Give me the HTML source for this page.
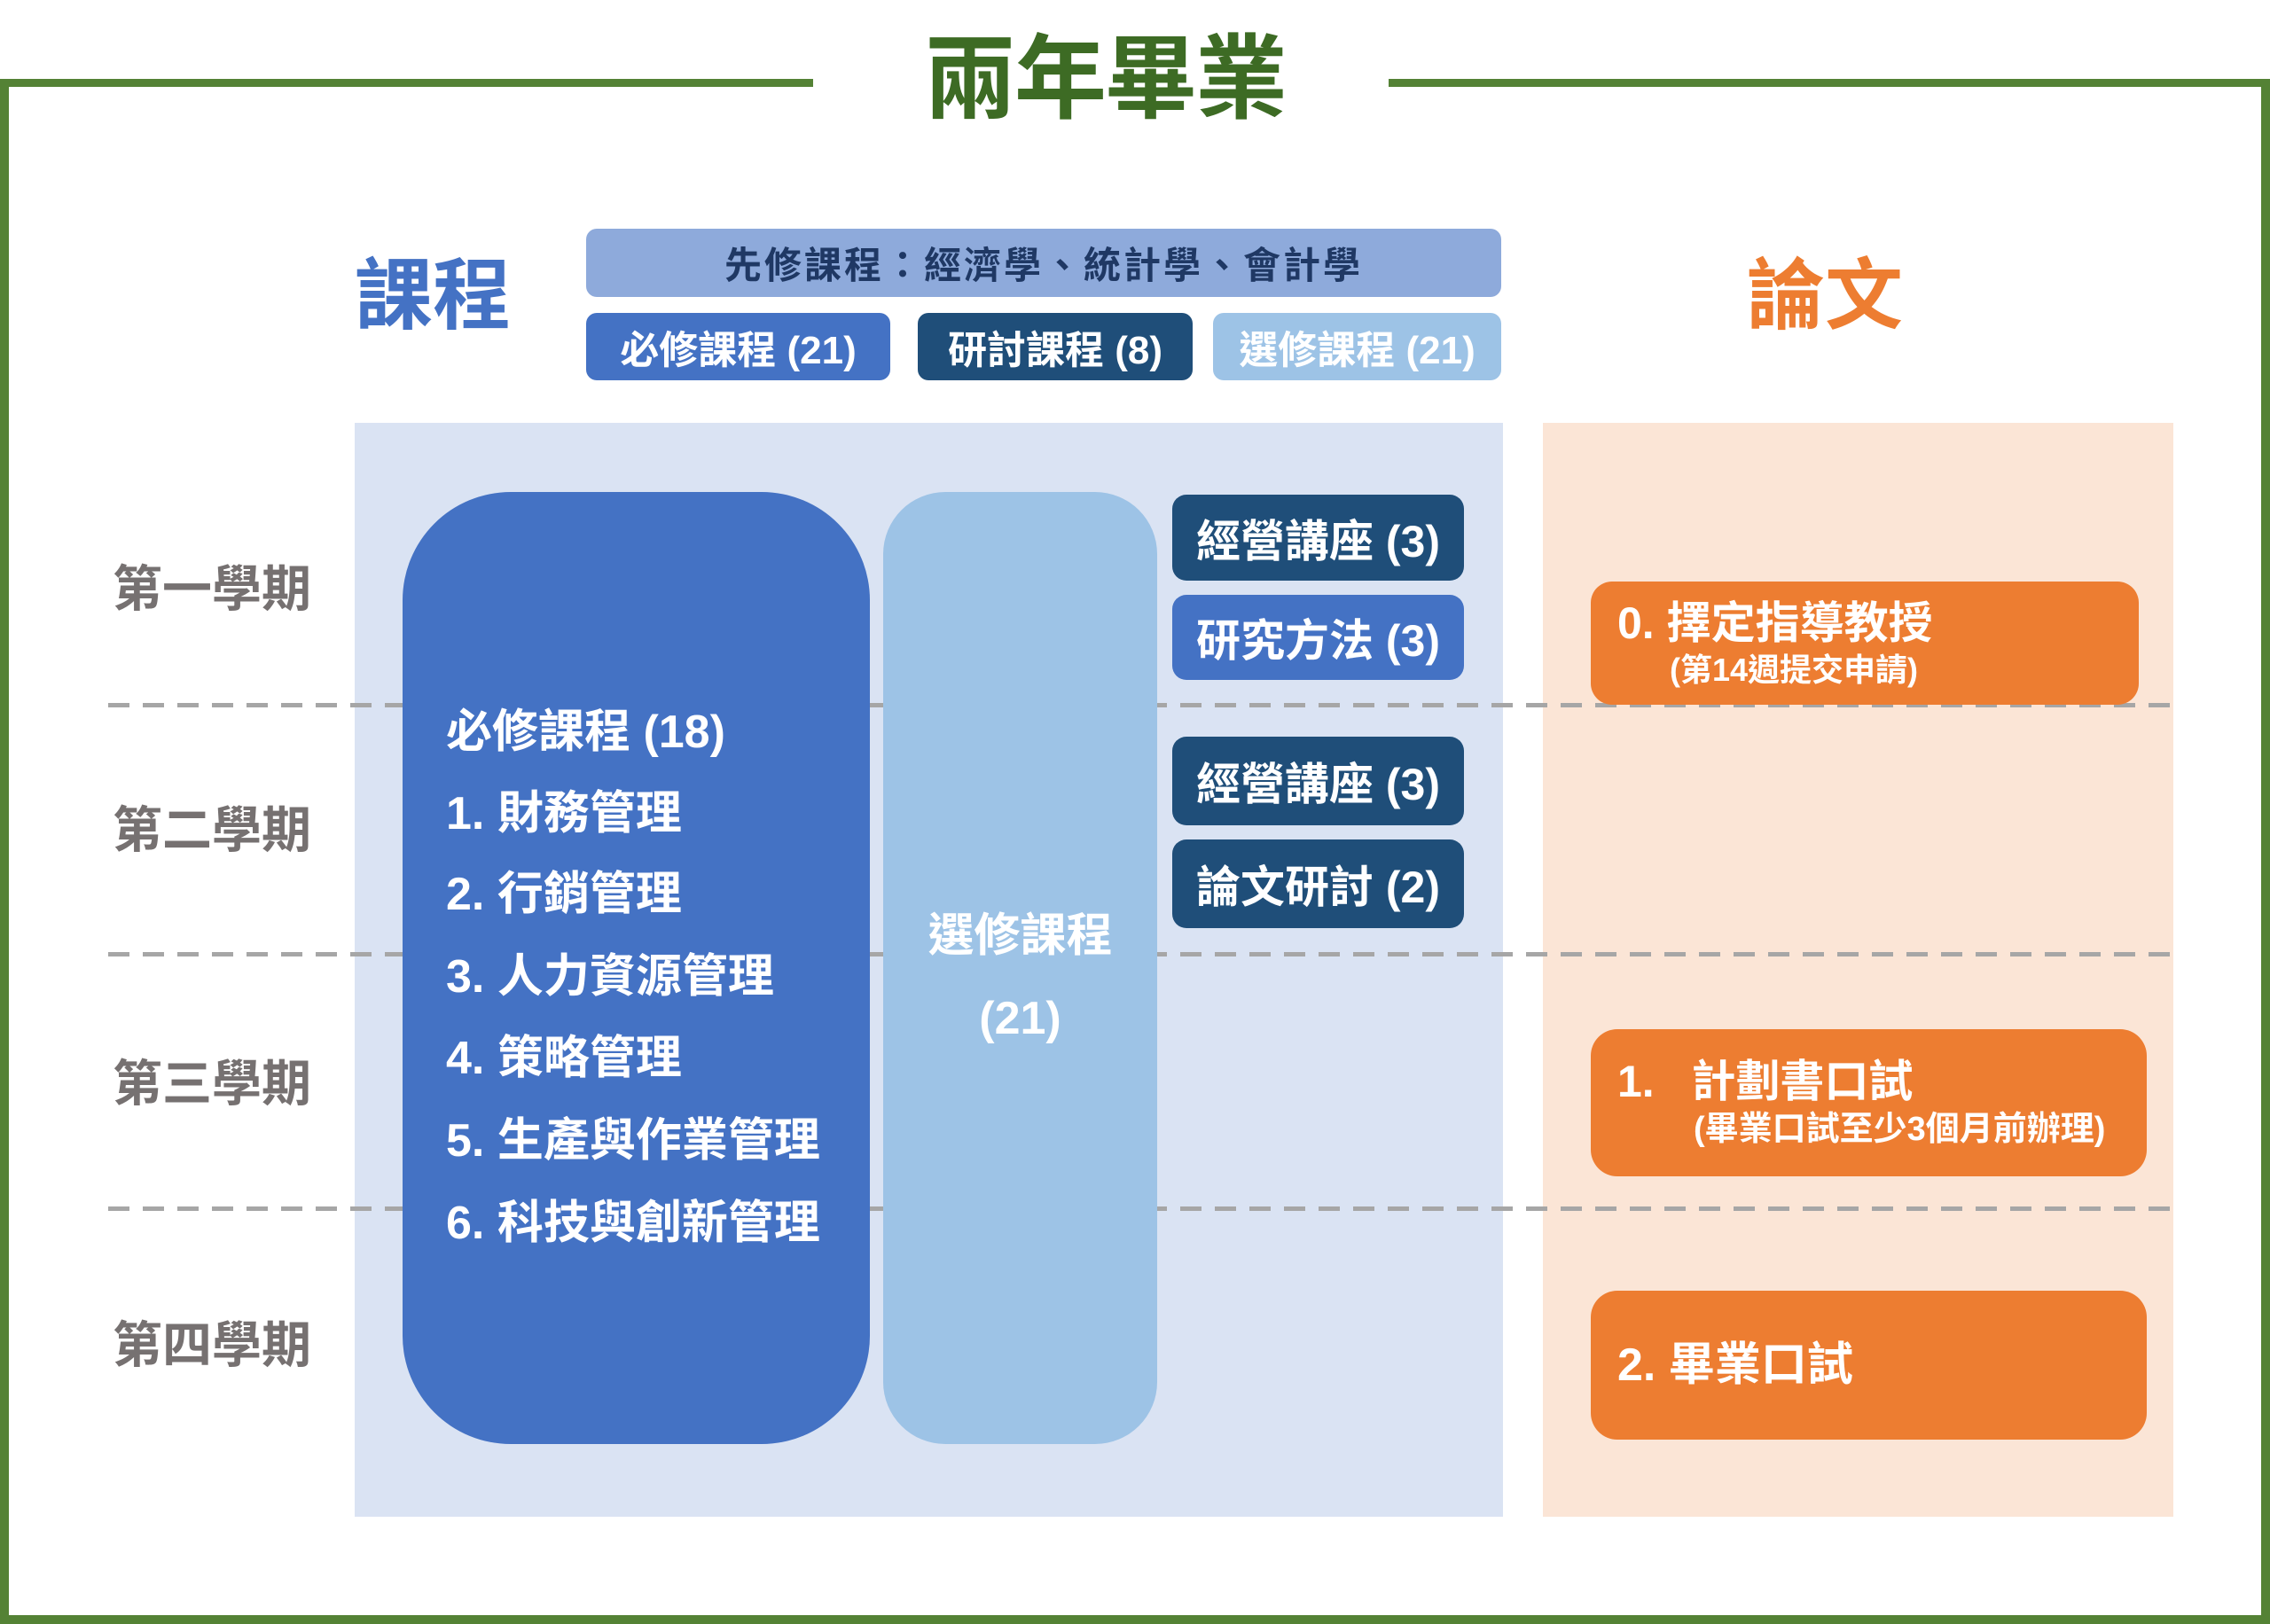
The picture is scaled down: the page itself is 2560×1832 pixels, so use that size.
<!DOCTYPE html>
<html><head><meta charset="utf-8"><style>
*{margin:0;padding:0;box-sizing:border-box}
body{width:2560px;height:1832px;position:relative;background:#fff;overflow:hidden;font-family:"Liberation Sans","Noto Sans CJK TC",sans-serif;font-weight:bold}
.a{position:absolute}
.t{position:absolute;white-space:nowrap;line-height:1}
.box{position:absolute;display:flex;align-items:center;justify-content:center;color:#fff;white-space:nowrap}
.dash{position:absolute;left:122px;width:2329px;height:5px;background:repeating-linear-gradient(90deg,#a6a6a6 0 24px,transparent 24px 39px)}
.sem{position:absolute;left:127px;color:#767171;font-size:56px;line-height:1;white-space:nowrap}
</style></head><body>
<div class="a" style="left:0;top:89px;width:917px;height:9px;background:#548235"></div>
<div class="a" style="left:1566px;top:89px;width:994px;height:9px;background:#548235"></div>
<div class="a" style="left:0;top:89px;width:10px;height:1743px;background:#548235"></div>
<div class="a" style="left:2550px;top:89px;width:10px;height:1743px;background:#548235"></div>
<div class="a" style="left:0;top:1822px;width:2560px;height:10px;background:#548235"></div>
<div class="t" style="left:1042px;top:38px;font-size:104px;color:#3d6b24;letter-spacing:-2px">兩年畢業</div>

<div class="t" style="left:400px;top:290px;font-size:88px;color:#4472c4">課程</div>
<div class="t" style="left:1970px;top:290px;font-size:88px;color:#ed7d31">論文</div>

<div class="box" style="left:661px;top:258px;width:1032px;height:77px;background:#8eaadb;border-radius:12px;color:#1f3864;font-size:42px;letter-spacing:3px">先修課程：經濟學、統計學、會計學</div>
<div class="box" style="left:661px;top:353px;width:343px;height:76px;background:#4472c4;border-radius:12px;font-size:44px">必修課程 (21)</div>
<div class="box" style="left:1035px;top:353px;width:310px;height:76px;background:#1f4e79;border-radius:12px;font-size:44px">研討課程 (8)</div>
<div class="box" style="left:1368px;top:353px;width:325px;height:76px;background:#9dc3e6;border-radius:12px;font-size:44px">選修課程 (21)</div>

<div class="a" style="left:400px;top:477px;width:1295px;height:1234px;background:#dae3f3"></div>
<div class="a" style="left:1740px;top:477px;width:711px;height:1234px;background:#fbe5d6"></div>

<div class="dash" style="top:793px"></div>
<div class="dash" style="top:1074px"></div>
<div class="dash" style="top:1361px"></div>

<div class="sem" style="top:637px">第一學期</div>
<div class="sem" style="top:909px">第二學期</div>
<div class="sem" style="top:1195px">第三學期</div>
<div class="sem" style="top:1490px">第四學期</div>

<div class="a" style="left:454px;top:555px;width:527px;height:1074px;background:#4472c4;border-radius:122px"></div>
<div class="t" style="left:503px;top:800px;font-size:52px;color:#fff">必修課程 (18)</div>
<div class="t" style="left:503px;top:892px;font-size:52px;color:#fff">1. 財務管理</div>
<div class="t" style="left:503px;top:983px;font-size:52px;color:#fff">2. 行銷管理</div>
<div class="t" style="left:503px;top:1076px;font-size:52px;color:#fff">3. 人力資源管理</div>
<div class="t" style="left:503px;top:1168px;font-size:52px;color:#fff">4. 策略管理</div>
<div class="t" style="left:503px;top:1261px;font-size:52px;color:#fff">5. 生產與作業管理</div>
<div class="t" style="left:503px;top:1354px;font-size:52px;color:#fff">6. 科技與創新管理</div>

<div class="a" style="left:996px;top:555px;width:309px;height:1074px;background:#9dc3e6;border-radius:70px"></div>
<div class="t" style="left:996px;width:309px;text-align:center;top:1030px;font-size:52px;color:#fff">選修課程</div>
<div class="t" style="left:996px;width:309px;text-align:center;top:1123px;font-size:52px;color:#fff">(21)</div>

<div class="box" style="left:1322px;top:558px;width:329px;height:97px;background:#1f4e79;border-radius:16px;font-size:50px">經營講座 (3)</div>
<div class="box" style="left:1322px;top:671px;width:329px;height:96px;background:#4472c4;border-radius:16px;font-size:50px">研究方法 (3)</div>
<div class="box" style="left:1322px;top:831px;width:329px;height:100px;background:#1f4e79;border-radius:16px;font-size:50px">經營講座 (3)</div>
<div class="box" style="left:1322px;top:947px;width:329px;height:100px;background:#1f4e79;border-radius:16px;font-size:50px">論文研討 (2)</div>

<div class="a" style="left:1794px;top:656px;width:618px;height:139px;background:#ed7d31;border-radius:24px"></div>
<div class="t" style="left:1824px;top:678px;font-size:50px;color:#fff">0. 擇定指導教授</div>
<div class="t" style="left:1883px;top:738px;font-size:36px;color:#fff">(第14週提交申請)</div>

<div class="a" style="left:1794px;top:1161px;width:627px;height:166px;background:#ed7d31;border-radius:30px"></div>
<div class="t" style="left:1824px;top:1195px;font-size:50px;color:#fff">1.&nbsp;&nbsp;&nbsp;計劃書口試</div>
<div class="t" style="left:1910px;top:1255px;font-size:38px;color:#fff">(畢業口試至少3個月前辦理)</div>

<div class="a" style="left:1794px;top:1456px;width:627px;height:168px;background:#ed7d31;border-radius:30px"></div>
<div class="t" style="left:1824px;top:1514px;font-size:52px;color:#fff">2. 畢業口試</div>
</body></html>
